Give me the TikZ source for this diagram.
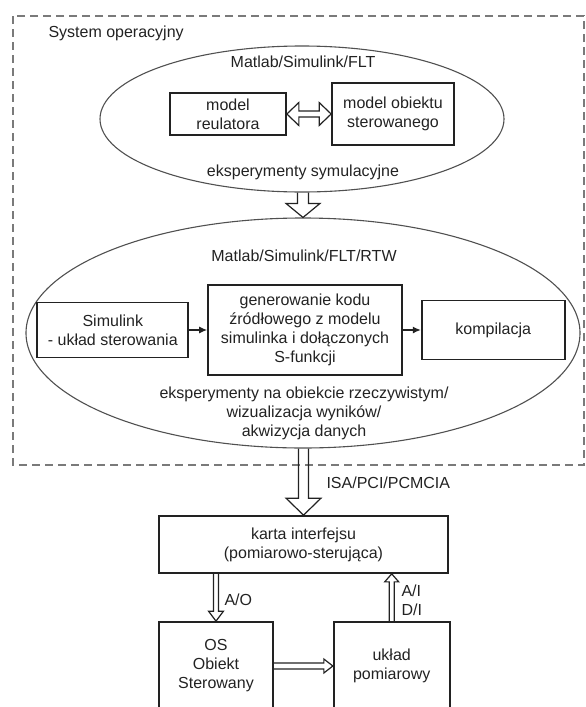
\documentclass[tikz,border=0pt]{standalone}
\usepackage{fontspec}
\setmainfont{Liberation Sans}
\usepackage{tikz}
\usetikzlibrary{shapes.geometric, arrows.meta, positioning, calc}
\definecolor{inkgray}{HTML}{222222}
\definecolor{ovalgray}{HTML}{505050}
\definecolor{dashgray}{HTML}{7A7A7A}

\newcommand{\vhollow}[5]{\draw[hollow] let \p1=(#1), \p2=(#2), \n1={\y2-((\y2>\y1)*2-1)*#5} in
  (\x2-#3,\y1) -- (\x2-#3,\n1) -- (\x2-#4,\n1) -- (\x2,\y2) -- (\x2+#4,\n1) -- (\x2+#3,\n1) -- (\x2+#3,\y1);}
\newcommand{\hhollow}[5]{\draw[hollow] let \p1=(#1), \p2=(#2), \n1={\x2-((\x2>\x1)*2-1)*#5} in
  (\x1,\y2-#3) -- (\n1,\y2-#3) -- (\n1,\y2-#4) -- (\x2,\y2) -- (\n1,\y2+#4) -- (\n1,\y2+#3) -- (\x1,\y2+#3);}
\newcommand{\hhollowboth}[5]{\draw[hollow] let \p1=(#1), \p2=(#2), \n1={\x1+#5}, \n2={\x2-#5} in
  (\x1,\y1) -- (\n1,\y1+#4) -- (\n1,\y1+#3) -- (\n2,\y1+#3) -- (\n2,\y1+#4) -- (\x2,\y1)
  -- (\n2,\y1-#4) -- (\n2,\y1-#3) -- (\n1,\y1-#3) -- (\n1,\y1-#4) -- cycle;}

\begin{document}
\begin{tikzpicture}[
    x=1pt, y=-1pt,
    every node/.style={font=\fontsize{16}{19}\selectfont, text=inkgray},
    box/.style={draw=inkgray, line width=1.7pt, align=center, inner sep=0pt},
    oval/.style={ellipse, draw=ovalgray, line width=1.1pt, inner sep=0pt},
    arrow/.style={-{Latex[length=8pt, width=7pt]}, line width=1.3pt, color=inkgray},
    hollow/.style={draw=inkgray, line width=1.2pt, line join=miter},
    frame/.style={draw=dashgray, line width=1.5pt, dash pattern=on 8pt off 5pt}
]
\useasboundingbox (0,0) rectangle (586,707);
\clip (0,0) rectangle (586,707);

\draw[frame] (13,16) rectangle (584,465);
\node[anchor=west] (sysop) at (45,33) {System operacyjny};

\node[oval, minimum width=404pt, minimum height=146pt] (ell1) at (302,119) {};
\node (flt) at (303,62) {Matlab/Simulink/FLT};
\node[box, minimum width=116pt, minimum height=42pt] (reg) at (228,114) {model\\reulatora};
\node[box, minimum width=122pt, minimum height=62pt] (obj) at (393,114) {model obiektu\\sterowanego};
\node (sym) at (303,172) {eksperymenty symulacyjne};

\node[oval, minimum width=554pt, minimum height=230pt] (ell2) at (303,333) {};
\node (rtw) at (304,256) {Matlab/Simulink/FLT/RTW};
\node[box, minimum width=194pt, minimum height=90pt] (gen) at (305,330) {generowanie kodu\\źródłowego z modelu\\simulinka i dołączonych\\S-funkcji};
\node[box, minimum width=151pt, minimum height=55pt, left=18pt of gen] (sim) {Simulink\\- układ sterowania};
\node[box, minimum width=143pt, minimum height=59pt, right=18pt of gen] (kom) {kompilacja};
\node[align=center] (exp) at (304,413) {eksperymenty na obiekcie rzeczywistym/\\wizualizacja wyników/\\akwizycja danych};

\node[box, minimum width=289pt, minimum height=57pt] (karta) at (303.5,544.5) {karta interfejsu\\(pomiarowo-sterująca)};
\node[box, minimum width=114pt, minimum height=88pt] (os) at (216,666) {OS\\Obiekt\\Sterowany};
\node[box, minimum width=116pt, minimum height=88pt, right=59pt of os] (ukl) {układ\\pomiarowy};
\node[anchor=west] (isa) at (323,483) {ISA/PCI/PCMCIA};
\node[anchor=west] (ao) at (221,600) {A/O};
\node[anchor=west, align=left] (aidi) at (398,600) {A/I\\D/I};

\draw[arrow] (sim) -- (gen);
\draw[arrow] (gen) -- (kom);
\hhollowboth{reg.east}{obj.west}{3}{11.5}{12}
\vhollow{ell1.south}{ell2.north}{5.5}{17}{14}
\vhollow{ell2.south}{karta.north}{5}{17.5}{17}
\vhollow{os.north |- karta.south}{os.north}{2.5}{7.5}{10}
\vhollow{ukl.north}{ukl.north |- karta.south}{2.5}{7}{8}
\hhollow{os.east}{ukl.west}{3}{7}{9}
\end{tikzpicture}
\end{document}
